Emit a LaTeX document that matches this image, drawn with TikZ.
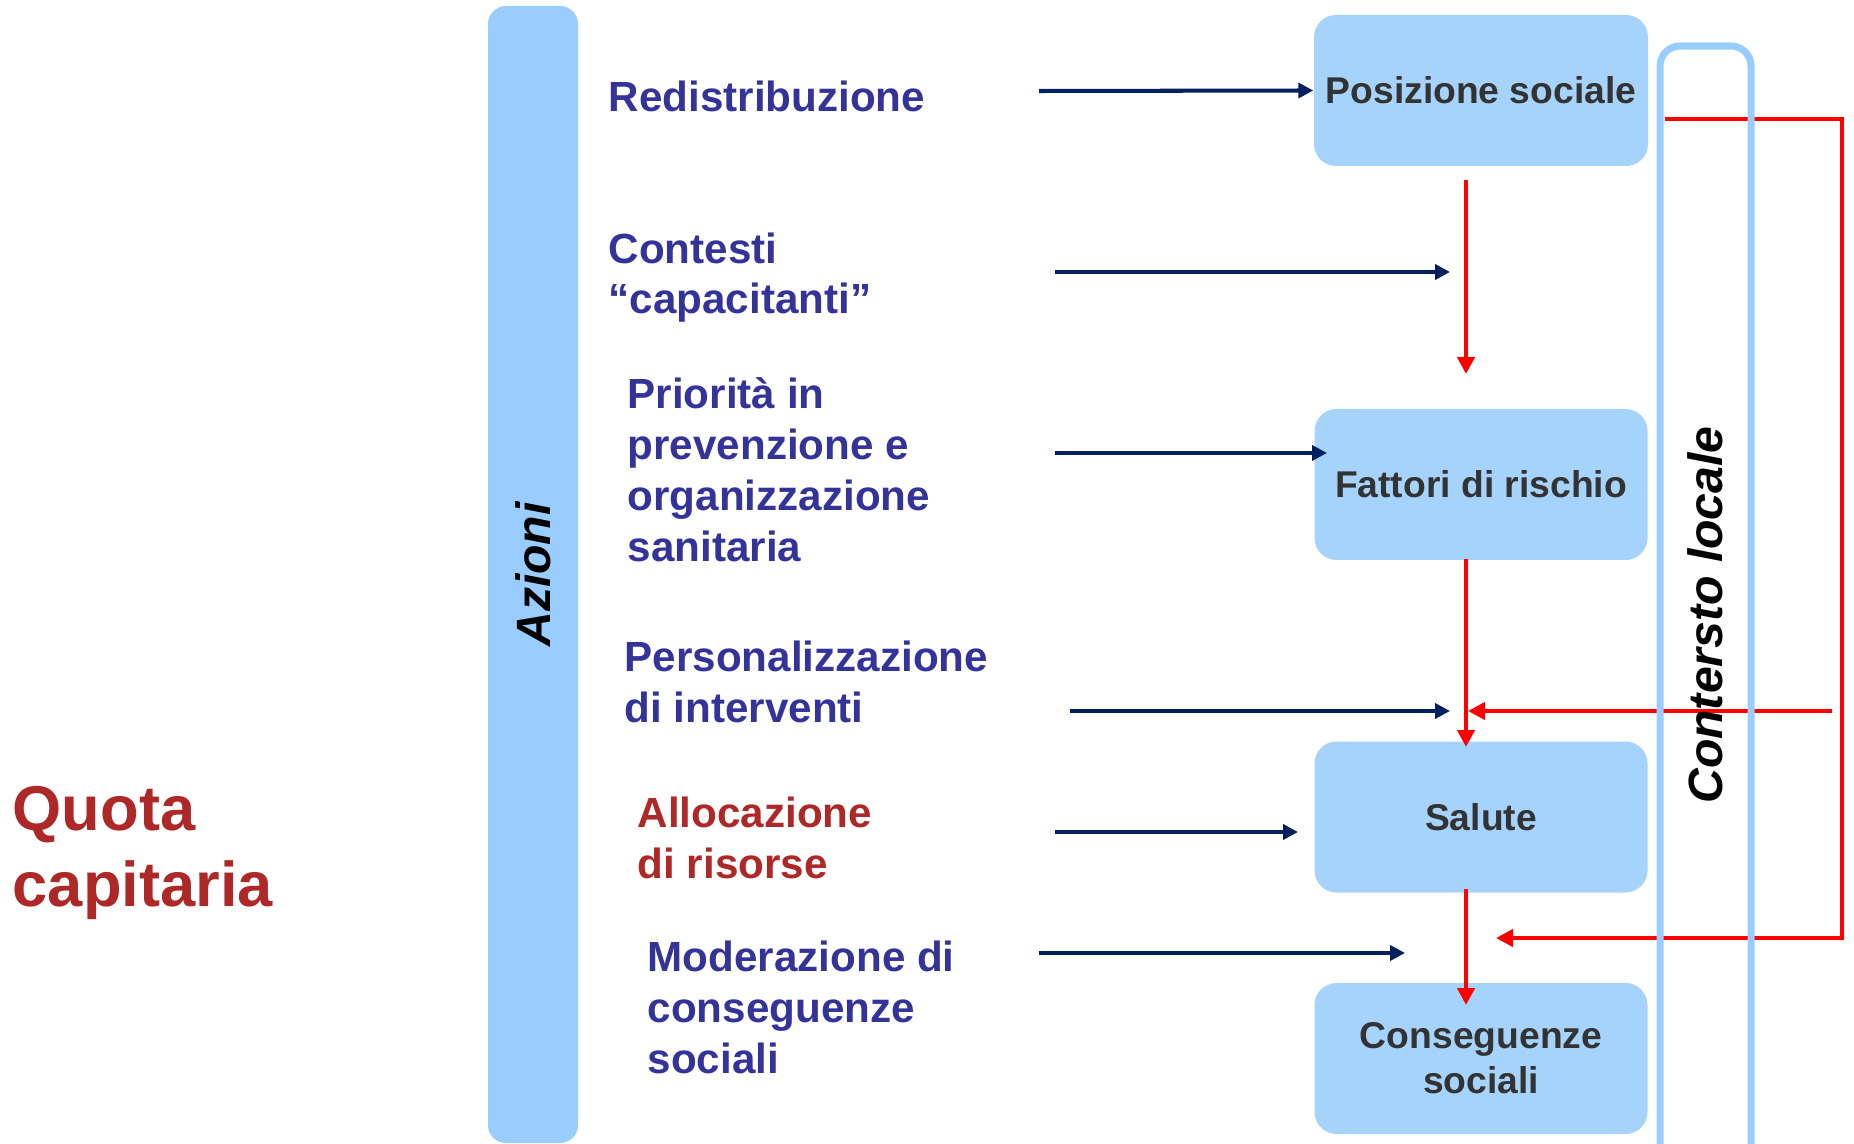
\documentclass[tikz,border=0pt]{standalone}
\usepackage{fontspec}
\setmainfont{Liberation Sans}
\usetikzlibrary{arrows.meta}
\definecolor{azblu}{RGB}{51,51,153}
\definecolor{azrosso}{RGB}{175,40,40}
\definecolor{navy}{RGB}{0,32,96}
\definecolor{barra}{RGB}{153,204,255}
\definecolor{boxfill}{RGB}{166,211,252}
\definecolor{boxtext}{RGB}{51,51,51}
\begin{document}
\begin{tikzpicture}[y=-1cm,
  voce/.style={anchor=base west, align=left, inner sep=0pt, text=azblu,
    font=\bfseries\fontsize{12pt}{14.5pt}\selectfont},
  casella/.style={fill=boxfill, rounded corners=0.22cm, minimum width=3.33cm,
    minimum height=1.51cm, align=center, text=boxtext,
    font=\bfseries\fontsize{10.6pt}{12.8pt}\selectfont},
  freccia/.style={draw=navy, line width=1.15pt, -{Triangle[length=0.15cm,width=0.15cm]}},
  rossa/.style={draw=red, line width=1.4pt},
  punta/.style={-{Triangle[length=0.17cm,width=0.17cm]}},
  cornice/.style={draw=barra, line width=2pt, rounded corners=0.2cm}]
\useasboundingbox (0,0) rectangle (18.54,11.44);
% barra azioni
\node[fill=barra, rounded corners=0.18cm, minimum width=11.37cm, minimum height=0.9cm,
  rotate=90, font=\bfseries\itshape\fontsize{13.7pt}{16pt}\selectfont] (azioni) at (5.33,5.745) {Azioni};
% testi (base = ultima riga)
\node[voce, text=azrosso, font=\bfseries\fontsize{18pt}{21.6pt}\selectfont] (quota) at (0.12,9.06) {Quota\\capitaria};
\node[voce] (redis) at (6.08,1.12) {Redistribuzione};
\node[voce] (contesti) at (6.08,3.14) {Contesti\\“capacitanti”};
\node[voce] (priorita) at (6.27,5.61) {Priorità in\\prevenzione e\\organizzazione\\sanitaria};
\node[voce] (person) at (6.24,7.22) {Personalizzazione\\di interventi};
\node[voce, text=azrosso] (alloc) at (6.37,8.78) {Allocazione\\di risorse};
\node[voce] (moder) at (6.47,10.73) {Moderazione di\\conseguenze\\sociali};
% caselle
\node[casella] (pos) at (14.81,0.905) {Posizione sociale};
\node[casella] (fat) at (14.81,4.845) {Fattori di rischio};
\node[casella] (sal) at (14.81,8.17) {Salute};
\node[casella] (cons) at (14.81,10.585) {Conseguenze\\sociali};
% frecce azioni
\coordinate (a1) at (10.39,0.91);
\coordinate (a2) at (10.55,2.72);  \coordinate (b2) at (14.50,2.72);
\coordinate (a3) at (10.55,4.53);  \coordinate (b3) at (13.27,4.53);
\coordinate (a4) at (10.70,7.11);  \coordinate (b4) at (14.50,7.11);
\coordinate (a5) at (10.55,8.32);  \coordinate (b5) at (12.98,8.32);
\coordinate (a6) at (10.39,9.53);  \coordinate (b6) at (14.05,9.53);
\draw[freccia] (a1) -- (pos.west);
\draw[freccia] (a2) -- (b2);
\draw[freccia] (a3) -- (b3);
\draw[freccia] (a4) -- (b4);
\draw[freccia] (a5) -- (b5);
\draw[freccia] (a6) -- (b6);
% catena causale
\coordinate (r1) at (14.66,1.80);  \coordinate (s1) at (14.66,3.74);
\coordinate (r2) at (14.66,5.59);  \coordinate (s2) at (14.66,7.47);
\coordinate (r3) at (14.66,8.89);  \coordinate (s3) at (14.66,10.05);
\draw[rossa, punta] (r1) -- (s1);
\draw[rossa, punta] (r2) -- (s2);
\draw[rossa, punta] (r3) -- (s3);
% contesto locale
\coordinate (k1) at (16.65,1.19);
\coordinate (k2) at (18.42,9.38);
\coordinate (k3) at (14.96,9.38);
\coordinate (m1) at (18.32,7.11);
\coordinate (m2) at (14.68,7.11);
\draw[rossa, punta] (k1) -| (k2) -- (k3);
\draw[rossa, punta] (m1) -- (m2);
\draw[cornice] (16.60,11.8) -- (16.60,0.46) -- (17.51,0.46) -- (17.51,11.8);
\node[rotate=90, font=\bfseries\itshape\fontsize{13.7pt}{16pt}\selectfont] (ctx) at (17.05,6.15) {Contersto locale};
\end{tikzpicture}
\end{document}
